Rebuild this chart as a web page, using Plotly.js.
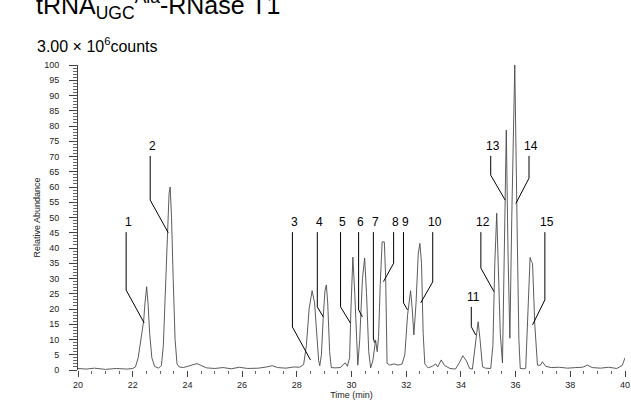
<!DOCTYPE html>
<html>
<head>
<meta charset="utf-8">
<script src="https://cdn.plot.ly/plotly-3.0.1.min.js"></script>
<style>html,body{margin:0;padding:0;background:#fff;}#chart{width:631px;height:403px;}</style>
</head>
<body>
<div id="chart"></div>
<script>
// Chromatogram (time in min, relative abundance %)
const timeMin = [20.0,20.3,20.6,21.0,21.4,21.8,22.0,22.1,22.2,22.3,22.4,22.45,22.51,22.56,22.62,22.7,22.8,22.95,
23.05,23.12,23.2,23.27,23.33,23.37,23.42,23.48,23.55,23.62,23.7,23.85,24.0,24.2,24.35,24.5,24.7,25.0,25.3,25.6,25.9,
26.2,26.6,26.9,27.1,27.3,27.6,27.9,28.1,28.25,28.35,28.45,28.56,28.65,28.72,28.8,28.84,28.9,28.97,29.03,29.08,29.13,
29.2,29.26,29.4,29.6,29.72,29.78,29.85,29.93,29.98,30.05,30.12,30.2,30.23,30.3,30.4,30.48,30.55,30.63,30.7,30.78,
30.88,30.94,30.99,31.05,31.12,31.2,31.25,31.3,31.4,31.55,31.7,31.85,31.95,32.05,32.16,32.22,32.28,32.36,32.44,32.5,
32.56,32.62,32.68,32.8,32.95,33.08,33.15,33.28,33.4,33.6,33.8,33.95,34.07,34.2,34.32,34.42,34.5,34.57,34.63,34.7,
34.79,34.9,35.09,35.17,35.24,35.31,35.37,35.44,35.52,35.58,35.66,35.72,35.79,35.86,35.97,36.05,36.12,36.17,36.3,
36.37,36.45,36.53,36.58,36.62,36.7,36.8,36.9,36.98,37.1,37.3,37.6,37.9,38.2,38.45,38.63,38.8,39.1,39.4,39.7,39.9,40.0];
const abundance = [0.5,0.3,0.6,0.2,0.5,0.3,0.5,1.0,4,10,16,22,27.3,22,12,4,1.2,0.6,
1.5,8,25,45,58,60,50,30,10,2,1,0.8,1.2,1.8,2.1,1.5,0.7,0.5,0.8,0.4,0.9,
0.5,0.6,1.0,1.4,0.8,0.6,1.0,0.9,1.8,8,20,26,22,12,3,1.4,5,18,26,27.9,22,
6,0.8,0.7,0.8,2,2.3,1.2,4,20,37,25,5,1.6,10,30,36.7,25,6,0.7,3,
9.8,6,11,28,42,42,30,2.2,1.6,2,1.6,2,5,18,26,20,11.5,22,38,41.5,
35,12,2,0.7,1.2,2,1,3.3,1.5,0.5,0.3,2.5,4.7,3,0.5,0.3,6,12,15.8,10,
1,0.6,0.5,8,35,51.4,35,12,2.3,40,78.7,40,10.4,50,100,50,10,0.5,0.4,
0.6,18,36.9,35.5,35,15,1.6,1.5,2.7,1.2,0.8,0.9,0.6,0.8,0.9,1.6,0.8,0.6,0.9,0.5,1.5,4];

// Peak labels and leader lines
const peakNames  = ["1","2","3","4","5","6","7","8","9","10","11","12","13","14","15"];
const labelTime  = [21.76,22.64,27.84,28.75,29.6,30.26,30.8,31.54,31.9,32.97,34.38,34.73,35.09,36.49,37.07];
const labelLevel = [48.5,73.5,48.5,48.5,48.5,48.5,48.5,48.5,48.5,48.5,24.0,48.5,73.5,73.5,48.5];
const leaderTop  = [45.2,70.2,45.2,45.2,45.2,45.2,45.2,45.2,45.2,45.2,20.7,45.2,70.2,70.2,45.2];
const elbowLevel = [26.2,55.7,14.1,20.7,20.7,19.7,10.5,35.0,22.0,28.9,14.2,33.4,63.9,62.9,23.0];
const tipTime    = [22.42,23.3,28.5,28.97,29.96,30.4,30.84,31.17,32.05,32.53,34.54,35.21,35.62,36.01,36.62];
const tipLevel   = [15.4,45.0,3.3,17.4,15.4,17.4,9.0,29.0,19.7,22.0,11.5,25.7,55.7,54.6,14.8];

const xTickVals = [20,22,24,26,28,30,32,34,36,38,40];
const yTickVals = [0,5,10,15,20,25,30,35,40,45,50,55,60,65,70,75,80,85,90,95,100];

const leaderX = [], leaderY = [];
for (let i = 0; i < peakNames.length; i++) {
  leaderX.push(labelTime[i], labelTime[i], tipTime[i], null);
  leaderY.push(leaderTop[i], elbowLevel[i], tipLevel[i], null);
}

const font = "Liberation Sans, Arial, sans-serif";

const traces = [
  {x: timeMin, y: abundance, type: 'scatter', mode: 'lines',
   line: {color: '#4a4a4a', width: 0.9}, hoverinfo: 'skip', cliponaxis: false},
  {x: leaderX, y: leaderY, type: 'scatter', mode: 'lines',
   line: {color: '#000', width: 1}, hoverinfo: 'skip', connectgaps: false}
];

const annotations = peakNames.map((n, i) => ({
  x: labelTime[i], y: labelLevel[i], xref: 'x', yref: 'y', text: n, showarrow: false,
  xanchor: 'center', yanchor: 'middle', xshift: 2,
  font: {family: font, size: 12, color: '#000'}
}));
annotations.push({
  xref: 'paper', yref: 'paper', x: -0.079, y: 1.066, xanchor: 'left', yanchor: 'middle',
  text: '3.00 × 10<sup>6</sup>counts', showarrow: false,
  font: {family: font, size: 16, color: '#000'}
});
annotations.push({
  xref: 'paper', yref: 'paper', x: -0.081, y: 1.196, xanchor: 'left', yanchor: 'middle',
  text: 'tRNA<sub>UGC</sub><sup>Ala</sup>-RNase T1', showarrow: false,
  font: {family: font, size: 25, color: '#000'}
});

const layout = {
  width: 631, height: 403,
  margin: {l: 78, r: 6, t: 65, b: 33, pad: 0},
  paper_bgcolor: '#fff', plot_bgcolor: '#fff',
  showlegend: false,
  xaxis: {
    range: [20, 40], tickvals: xTickVals, ticktext: xTickVals.map(String),
    showgrid: false, zeroline: false, showline: false,
    ticks: 'outside', ticklen: 6, tickwidth: 1, tickcolor: '#444',
    minor: {dtick: 0.5, tick0: 20, ticks: 'outside', ticklen: 3, tickcolor: '#666', showgrid: false},
    tickfont: {family: font, size: 9, color: '#222'},
    title: {text: 'Time (min)', font: {family: font, size: 9, color: '#222'}, standoff: 2},
    automargin: false
  },
  yaxis: {
    range: [0, 100], tickvals: yTickVals, ticktext: yTickVals.map(String),
    showgrid: false, zeroline: false, showline: true, linecolor: '#444', linewidth: 1,
    ticks: 'outside', ticklen: 8, tickwidth: 1, tickcolor: '#444',
    minor: {dtick: 1, tick0: 0, ticks: 'outside', ticklen: 4, tickcolor: '#666', showgrid: false},
    tickfont: {family: font, size: 9, color: '#222'},
    ticklabelstandoff: 8,
    title: {text: 'Relative Abundance', font: {family: font, size: 9, color: '#222'}, standoff: 2},
    automargin: false
  },
  annotations: annotations
};

Plotly.newPlot('chart', traces, layout, {displayModeBar: false, staticPlot: true});
</script>
</body>
</html>
